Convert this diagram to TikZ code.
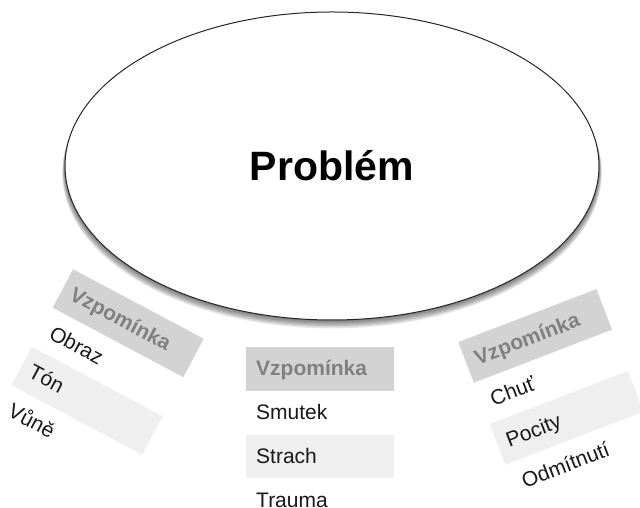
\documentclass[tikz,border=0pt]{standalone}
\usepackage{fontspec}
\setmainfont{Liberation Sans}
\usetikzlibrary{positioning,shapes.geometric}

\definecolor{headgray}{RGB}{211,211,211}
\definecolor{headtext}{RGB}{128,128,128}
\definecolor{rowgray}{RGB}{239,239,239}

\begin{document}
\begin{tikzpicture}[x=1pt, y=1pt, node distance=0pt,
    main/.style = {draw=black!85, line width=1pt, ellipse, fill=white,
      minimum width=534pt, minimum height=308pt,
      font=\bfseries\fontsize{41}{41}\selectfont},
    cell/.style = {rectangle, text width=128pt, inner xsep=10pt, inner ysep=0pt,
      minimum height=43.5pt, text height=16pt, text depth=2pt, align=left,
      font=\fontsize{21}{21}\selectfont, text=black!90},
    head/.style = {cell, fill=headgray, text=headtext,
      font=\bfseries\fontsize{21}{21}\selectfont},
    shade/.style = {cell, fill=rowgray}]
      \useasboundingbox (0,0) rectangle (640,508);

      % soft shadow under the ellipse
      \foreach \i in {1,...,7}
        \fill[black, opacity=0.09] (332,342-\i) ellipse ({267+0.4*\i} and {154+0.2*\i});

      \node[main] (p) at (332,342) {Problém};

      % left
      \begin{scope}[shift={(73,239)}, rotate=-28, transform shape]
        \node[head, anchor=north west] (l0) at (0,0) {Vzpomínka};
        \node[cell] (l1) [below=of l0] {Obraz};
        \node[shade] (l2) [below=of l1] {Tón};
        \node[cell] (l3) [below=of l2] {Vůně};
      \end{scope}

      % middle
      \begin{scope}[shift={(246,161)}]
        \node[head, anchor=north west] (m0) at (0,0) {Vzpomínka};
        \node[cell] (m1) [below=of m0] {Smutek};
        \node[shade] (m2) [below=of m1] {Strach};
        \node[cell] (m3) [below=of m2] {Trauma};
      \end{scope}

      % right
      \begin{scope}[shift={(458,166)}, rotate=21, transform shape]
        \node[head, anchor=north west] (r0) at (0,0) {Vzpomínka};
        \node[cell] (r1) [below=of r0] {Chuť};
        \node[shade] (r2) [below=of r1] {Pocity};
        \node[cell] (r3) [below=of r2] {Odmítnutí};
      \end{scope}
    \end{tikzpicture}
\end{document}
